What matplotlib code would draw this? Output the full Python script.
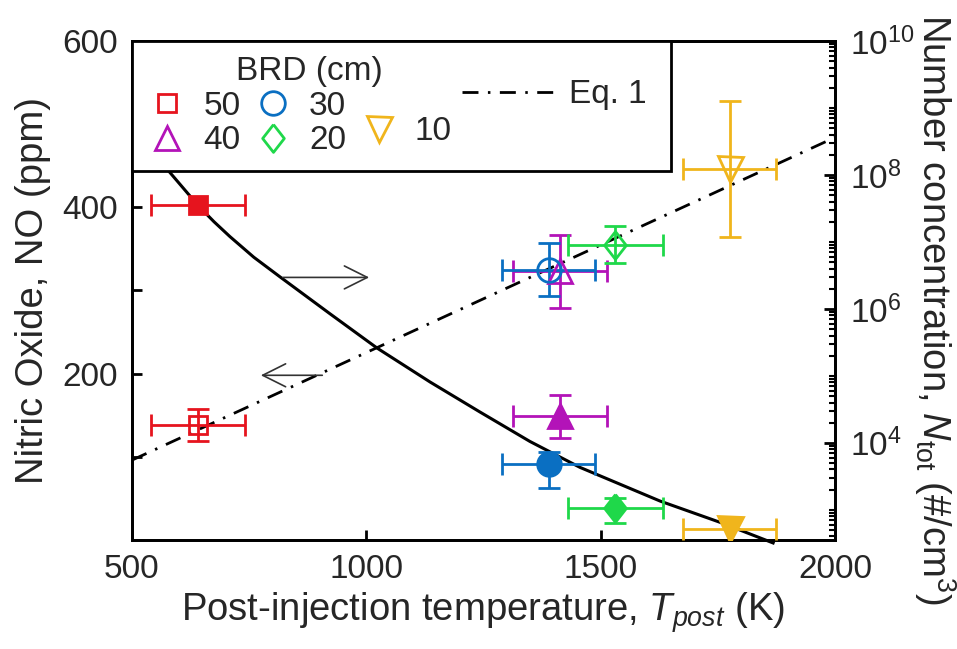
import numpy as np
import matplotlib
matplotlib.use("Agg")
import matplotlib.pyplot as plt
from matplotlib.lines import Line2D
from matplotlib.patches import Rectangle
from matplotlib.ticker import FixedLocator, LogLocator, LogFormatterSciNotation, NullFormatter

plt.rcParams['font.family'] = ['Liberation Sans', 'DejaVu Sans']
plt.rcParams['mathtext.fontset'] = 'custom'
plt.rcParams['mathtext.rm'] = 'Liberation Sans'
plt.rcParams['mathtext.it'] = 'Liberation Sans:italic'
plt.rcParams['lines.scale_dashes'] = False

# data, one entry per BRD
brd = ['50', '40', '30', '20', '10']
t_post = [641, 1413, 1389, 1531, 1775]
t_err = [100, 100, 100, 101, 100]
no_ppm = [138, 323, 325, 355, 446]
no_err = [19, 44, 32, 22, 82]
n_tot = [3.5e7, 2.5e4, 4.8e3, 1.05e3, 5.2e2]
n_lo = [3.5e7, 1.2e4, 2.1e3, 6.3e2, 3.0e2]
n_hi = [3.5e7, 5.2e4, 7.4e3, 1.5e3, 7.0e2]

# Eq. 1 line (left axis)
eq_t = [500, 2000]
eq_no = [96, 484]

# fitted curve for number concentration (right axis)
fit_t = [578, 641, 675, 709, 760, 816, 922, 1023, 1136, 1242, 1349, 1456, 1627, 1755, 1868]
fit_n = [1.15e8, 3.5e7, 2.0e7, 1.2e7, 5.9e6, 3.0e6, 8.5e5, 2.6e5, 8.1e4, 2.9e4, 1.05e4,
         4.3e3, 1.35e3, 6.5e2, 3.2e2]

colors = ['#e6141e', '#b313b8', '#0a6fc2', '#1fd84a', '#f0b51c']
diamond = [(0, 1), (0.78, 0), (0, -1), (-0.78, 0), (0, 1)]
markers = ['s', '^', 'o', diamond, 'v']
msizes = [13, 17, 17, 20, 18]
txt = '#262626'
label_size = 27.5

fig = plt.figure(figsize=(9.57, 6.49), dpi=100)
ax = fig.add_axes([0.1379, 0.168, 0.7346, 0.7689])
ax2 = ax.twinx()

ax.plot(eq_t, eq_no, color='k', lw=2, dashes=[11.5, 6.8, 1.8, 6.8], zorder=2)
ax2.plot(fit_t, fit_n, color='k', lw=2.2, zorder=2, clip_on=False)

for i in range(len(brd)):
    c = colors[i]
    ax.errorbar(t_post[i], no_ppm[i], xerr=t_err[i], yerr=no_err[i], fmt='none',
                ecolor=c, elinewidth=2, capsize=8, capthick=2, zorder=3)
    ax.plot(t_post[i], no_ppm[i], ls='none', marker=markers[i], ms=msizes[i],
            mfc='none', mec=c, mew=2, zorder=4)
    if n_hi[i] > n_lo[i]:
        yerr = [[n_tot[i] - n_lo[i]], [n_hi[i] - n_tot[i]]]
    else:
        yerr = None
    ax2.errorbar(t_post[i], n_tot[i], xerr=t_err[i], yerr=yerr, fmt='none',
                 ecolor=c, elinewidth=2, capsize=8, capthick=2, zorder=3)
    ax2.plot(t_post[i], n_tot[i], ls='none', marker=markers[i], ms=msizes[i],
             mfc=c, mec=c, mew=2, zorder=4)

# arrows pointing to the axes
ax2.annotate('', xy=(1012, 2.95e6), xytext=(816, 2.95e6),
             arrowprops=dict(arrowstyle='->,head_length=1.1,head_width=0.55',
                             lw=1.2, color='#333333', mutation_scale=15), zorder=3)
ax.annotate('', xy=(769, 198), xytext=(912, 198),
            arrowprops=dict(arrowstyle='->,head_length=1.1,head_width=0.55',
                            lw=1.2, color='#333333', mutation_scale=15), zorder=3)

ax.set_xlim(500, 2000)
ax.set_ylim(0, 600)
ax2.set_yscale('log')
ax2.set_ylim(10 ** 2.55, 1e10)

ax.xaxis.set_major_locator(FixedLocator([500, 1000, 1500, 2000]))
ax.yaxis.set_major_locator(FixedLocator([200, 400, 600]))
ax.yaxis.set_minor_locator(FixedLocator([100, 300, 500]))
ax2.yaxis.set_major_locator(FixedLocator([1e4, 1e6, 1e8, 1e10]))
ax2.yaxis.set_major_formatter(LogFormatterSciNotation())
ax2.yaxis.set_minor_locator(LogLocator(base=10, subs=np.arange(1, 10), numticks=30))
ax2.yaxis.set_minor_formatter(NullFormatter())

ax.tick_params(axis='both', which='both', direction='in', length=7, width=2,
               labelsize=24, labelcolor=txt, pad=10)
ax.tick_params(axis='x', top=True, right=False)
ax.tick_params(axis='y', right=False)
ax2.tick_params(axis='y', which='major', direction='in', length=8, width=2,
                labelsize=24, labelcolor=txt, pad=11)
ax2.tick_params(axis='y', which='minor', direction='in', length=4, width=1.5)
for a in (ax, ax2):
    for s in a.spines.values():
        s.set_linewidth(2)

ax.set_xlabel('Post-injection temperature, $T_{post}$ (K)', fontsize=label_size, color=txt)
ax.set_ylabel('Nitric Oxide, NO (ppm)', fontsize=label_size, color=txt)
ax2.set_ylabel('Number concentration, $N_{\\mathrm{tot}}$ (#/cm$^3$)', fontsize=label_size,
               color=txt, rotation=270, va='bottom', ha='center', rotation_mode='anchor')
ax.xaxis.set_label_coords(0.5, -0.10)
ax.yaxis.set_label_coords(-0.115, 0.5)
ax2.yaxis.set_label_coords(1.11, 0.461)

# legend box
ax2.add_patch(Rectangle((0, 0.739), 0.767, 0.261, transform=ax2.transAxes, fc='white',
                        ec='black', lw=2, zorder=5, clip_on=False))
ax2.text(0.252, 0.938, 'BRD (cm)', transform=ax2.transAxes, ha='center', va='center',
         fontsize=24, color=txt, zorder=7)

handles = [Line2D([], [], ls='none', marker=markers[i], ms=msizes[i], mfc='none',
                  mec=colors[i], mew=2) for i in range(len(brd))]
common = dict(frameon=False, fontsize=24, borderpad=0, borderaxespad=0, labelcolor=txt,
              handletextpad=0.59)
leg1 = ax2.legend(handles=handles[:4], labels=brd[:4], ncol=2, loc='upper left',
                  bbox_to_anchor=(0.026, 0.90), handlelength=1.0, columnspacing=0.47,
                  labelspacing=0.1, **common)
leg1.set_zorder(7)
ax2.add_artist(leg1)
leg2 = ax2.legend(handles=handles[4:], labels=brd[4:], loc='center left',
                  bbox_to_anchor=(0.327, 0.818), handlelength=1.0, **common)
leg2.set_zorder(7)
ax2.add_artist(leg2)
eq_handle = Line2D([], [], color='k', lw=2, dashes=[11.5, 6.8, 1.8, 6.8])
common['handletextpad'] = 0.48
leg3 = ax2.legend(handles=[eq_handle], labels=['Eq. 1'], loc='center left',
                  bbox_to_anchor=(0.469, 0.892), handlelength=2.75, **common)
leg3.set_zorder(7)

fig.savefig('out.png', dpi=100)
